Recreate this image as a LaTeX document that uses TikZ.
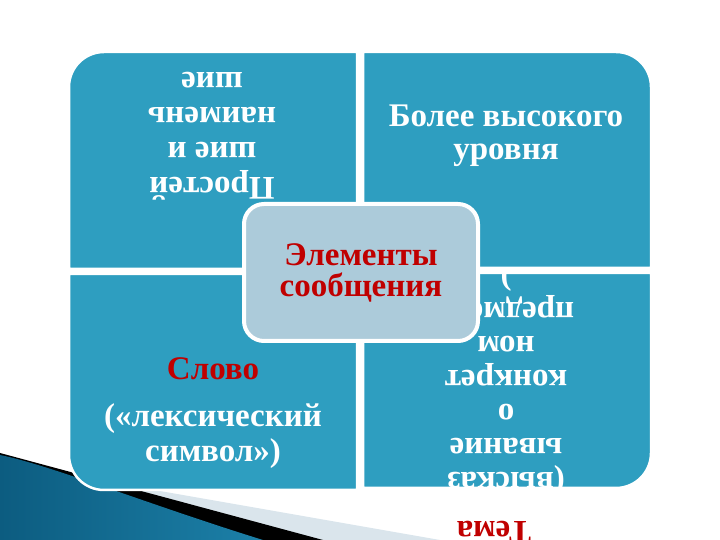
\documentclass[tikz,border=0pt]{standalone}
\usepackage{fontspec}
\setmainfont{Liberation Serif}
\definecolor{quadc}{RGB}{46,158,192}
\definecolor{centc}{RGB}{172,203,218}
\definecolor{redc}{RGB}{192,0,0}
\definecolor{lightband}{RGB}{218,229,236}
\definecolor{blueA}{RGB}{12,92,128}
\definecolor{blueB}{RGB}{70,165,205}
\definecolor{blueC}{RGB}{28,128,168}
\begin{document}
\begin{tikzpicture}[x=1pt,y=1pt,
  quad/.style={fill=quadc,draw=white,line width=2.5pt},
  wtxt/.style={text=white,align=center,inner sep=0pt,font=\bfseries},
  rtxt/.style={text=redc,align=center,inner sep=0pt,font=\bfseries}]
\useasboundingbox (0,0) rectangle (720,540);
% decoration bottom left
\fill[lightband] (0,77) -- (440,0) -- (0,0) -- cycle;
\fill[black] (0,87) -- (323,0) -- (0,0) -- cycle;
\shade[left color=blueA,middle color=blueB,right color=blueC]
  (0,85) .. controls (50,75) and (150,35) .. (263,0) -- (0,0) -- cycle;
% quadrants
\path[quad] (69,271) -- (69,453) arc[start angle=180,end angle=90,radius=35] -- (357,488) -- (357,271) -- cycle;
\path[quad] (363,272) -- (363,488) -- (616,488) arc[start angle=90,end angle=0,radius=35] -- (651,272) -- cycle;
\path[quad] (357,266) -- (69,266) -- (69,85) arc[start angle=180,end angle=270,radius=35] -- (357,50) -- cycle;
\path[quad] (363,267) -- (363,52) -- (616,52) arc[start angle=270,end angle=360,radius=35] -- (651,267) -- cycle;
% texts
\node[wtxt,rotate=180,font=\bfseries\fontsize{33}{35}\selectfont] (tl) at (212,404)
  {Простей\\шие и\\наимень\\шие};
\node[wtxt,font=\bfseries\fontsize{33}{33}\selectfont] (tr) at (506,404)
  {Более высокого\\уровня};
\node[rtxt,anchor=base,font=\bfseries\fontsize{33}{35}\selectfont] (slovo) at (213,160) {Слово};
\node[wtxt,font=\bfseries\fontsize{33}{35}\selectfont] (lex) at (213,103.5)
  {(«лексический\\символ»)};
\begin{scope}
  \clip (363,267) -- (363,52) -- (616,52) arc[start angle=270,end angle=360,radius=35] -- (651,267) -- cycle;
  \node[wtxt,rotate=180,font=\bfseries\fontsize{33}{34}\selectfont] (br) at (506,162)
    {(высказ\\ывание\\о\\конкрет\\ном\\предмете\\)};
\end{scope}
% centre
\node[rtxt,fill=centc,draw=white,line width=4pt,rounded corners=20pt,
  minimum width=234pt,minimum height=137pt,font=\bfseries\fontsize{33}{31}\selectfont] (centre) at (361,267.5)
  {Элементы\\сообщения};
\node[rtxt,rotate=180,font=\bfseries\fontsize{33}{33}\selectfont] (tema) at (494,8) {Тема};
\end{tikzpicture}
\end{document}
